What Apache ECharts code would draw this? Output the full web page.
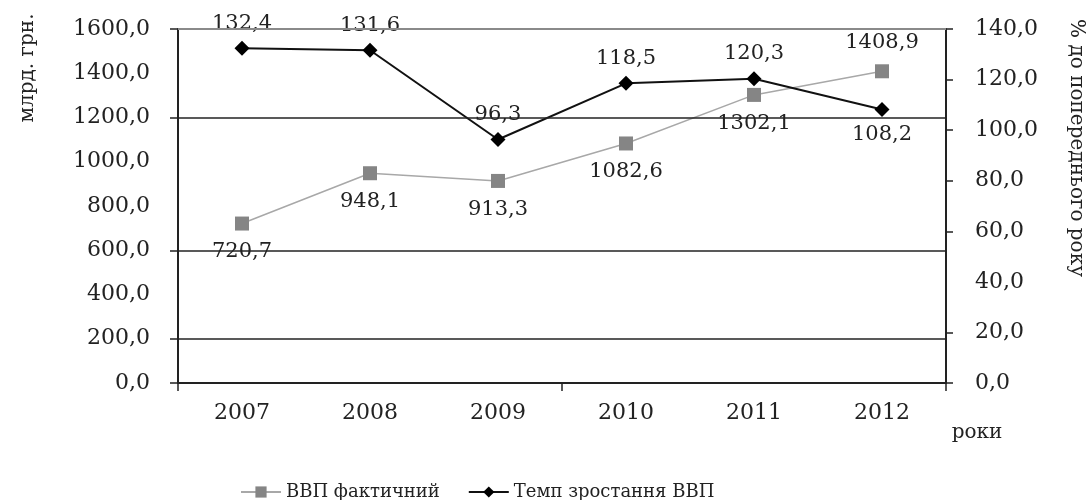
<!DOCTYPE html>
<html><head><meta charset="utf-8">
<script src="https://cdn.jsdelivr.net/npm/echarts@6/dist/echarts.min.js"></script>
<style>html,body{margin:0;padding:0;background:#fff}#c{width:1091px;height:500px}</style>
</head><body><div id="c"></div>
<script>
const years = ['2007','2008','2009','2010','2011','2012'];
const gdpActual = [720.7, 948.1, 913.3, 1082.6, 1302.1, 1408.9];
const gdpGrowth = [132.4, 131.6, 96.3, 118.5, 120.3, 108.2];
const gdpLabelPos = ['bottom','bottom','bottom','bottom','bottom','top'];
const growthLabelPos = ['top','top','top','top','top','bottom'];
const gridLineValues = [1600, 1200, 600, 200];
const leftTickValues = [0, 200, 600, 1200, 1600];
const rightTickValues = [0, 20, 60, 80, 100, 120, 140];
const seriesNames = ['ВВП фактичний', 'Темп зростання ВВП'];

const FONT = '"DejaVu Serif", "Liberation Serif", serif';
const fmt = v => Number(v).toFixed(1).replace('.', ',');
const chart = echarts.init(document.getElementById('c'), null, {renderer: 'canvas'});
chart.setOption({
  animation: false,
  backgroundColor: '#fff',
  textStyle: {fontFamily: FONT, color: '#222'},
  grid: {left: 178, right: 145, top: 29, bottom: 117},
  legend: {
    left: 235, top: 478, itemWidth: 40, itemHeight: 14, itemGap: 28,
    textStyle: {fontFamily: FONT, fontSize: 18, color: '#222'},
    data: seriesNames
  },
  xAxis: {
    type: 'category', data: years, boundaryGap: true,
    axisLine: {lineStyle: {color: '#222', width: 2}},
    axisTick: {show: true, length: 8, lineStyle: {color: '#222', width: 1.5},
      interval: (i) => i === 0 || i === 3},
    axisLabel: {fontFamily: FONT, fontSize: 22, color: '#222', margin: 19}
  },
  yAxis: [{
    type: 'value', min: 0, max: 1600, interval: 200, position: 'left',
    axisLine: {show: true, lineStyle: {color: '#222', width: 2}},
    axisTick: {show: true, length: 8, customValues: leftTickValues, lineStyle: {color: '#222', width: 1.5}},
    splitLine: {show: false},
    axisLabel: {fontFamily: FONT, fontSize: 22, color: '#222', margin: 28, formatter: fmt}
  }, {
    type: 'value', min: 0, max: 140, interval: 20, position: 'right',
    axisLine: {show: true, lineStyle: {color: '#222', width: 2}},
    axisTick: {show: true, length: 7, customValues: rightTickValues, lineStyle: {color: '#222', width: 1.5}},
    splitLine: {show: false},
    axisLabel: {fontFamily: FONT, fontSize: 22, color: '#222', margin: 29, formatter: fmt}
  }],
  series: [{
    name: seriesNames[0], type: 'line', yAxisIndex: 0,
    data: gdpActual.map((v, i) => ({value: v, label: {position: gdpLabelPos[i]}})),
    symbol: 'rect', symbolSize: 14,
    itemStyle: {color: '#858585'},
    lineStyle: {color: '#a8a8a8', width: 1.5},
    label: {show: true, fontFamily: FONT, fontSize: 21, color: '#222', distance: 11, formatter: p => fmt(p.value)},
    markLine: {
      silent: true, symbol: 'none', label: {show: false},
      lineStyle: {color: '#222', width: 1.5, type: 'solid'},
      data: gridLineValues.map(v => ({yAxis: v, lineStyle: v === 1600 ? {color: '#8a8a8a', width: 2, type: 'solid'} : undefined}))
    },
    z: 3
  }, {
    name: seriesNames[1], type: 'line', yAxisIndex: 1,
    data: gdpGrowth.map((v, i) => ({value: v, label: {position: growthLabelPos[i]}})),
    symbol: 'diamond', symbolSize: 15,
    itemStyle: {color: '#000'},
    lineStyle: {color: '#111', width: 2},
    label: {show: true, fontFamily: FONT, fontSize: 21, color: '#222', distance: 7, formatter: p => fmt(p.value)},
    z: 4
  }],
  graphic: [
    {type: 'text', x: 28, y: 68, rotation: Math.PI / 2,
      style: {text: 'млрд. грн.', font: '20px ' + FONT, fill: '#222', align: 'center', verticalAlign: 'middle'}},
    {type: 'text', x: 1076, y: 148, rotation: -Math.PI / 2,
      style: {text: '% до попереднього року', font: '20px ' + FONT, fill: '#222', align: 'center', verticalAlign: 'middle'}},
    {type: 'text', x: 977, y: 433,
      style: {text: 'роки', font: '20px ' + FONT, fill: '#222', align: 'center', verticalAlign: 'middle'}}
  ]
});
</script></body></html>
